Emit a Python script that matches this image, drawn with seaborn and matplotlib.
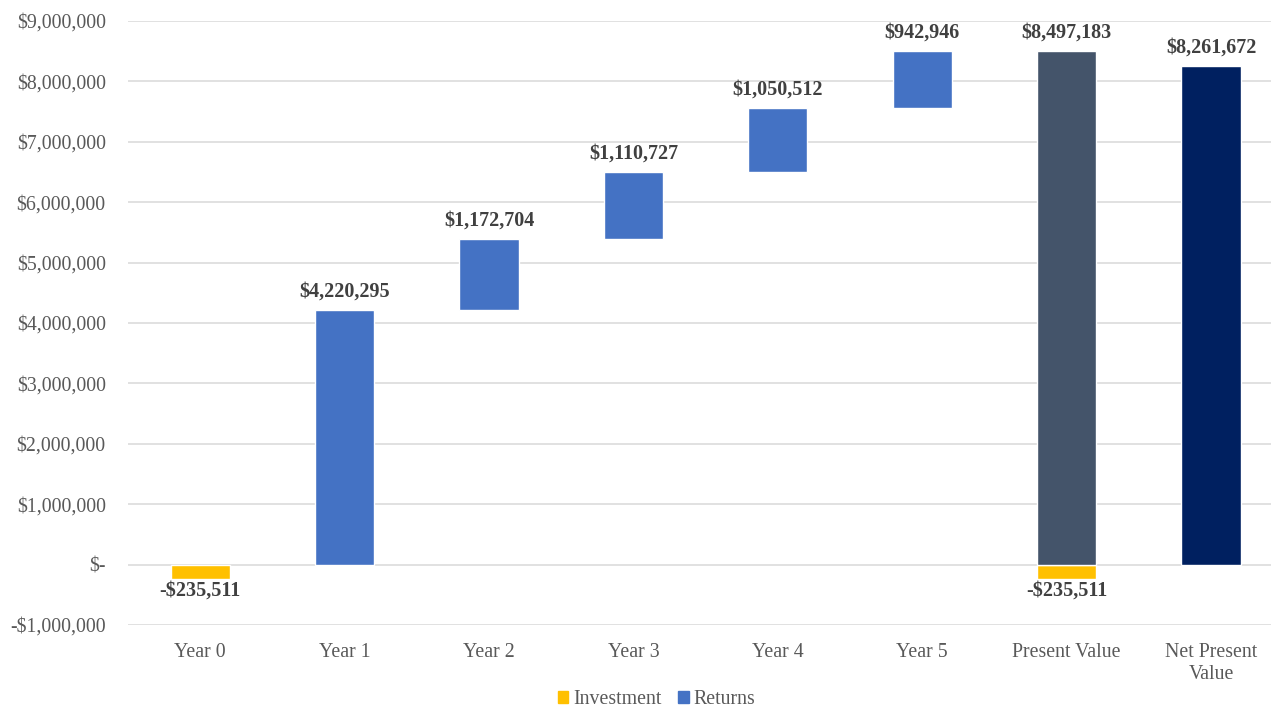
import matplotlib
matplotlib.use("Agg")
import matplotlib.pyplot as plt
import seaborn as sns
import pandas as pd
import numpy as np
from matplotlib.patches import Patch

# ---- data ----
categories = ["Year 0", "Year 1", "Year 2", "Year 3", "Year 4", "Year 5",
              "Present Value", "Net Present\nValue"]
investment = -235511
returns = [4220295, 1172704, 1110727, 1050512, 942946]
present_value = 8497183
net_present_value = 8261672

YELLOW = "#FFC000"
BLUE = "#4472C4"
SLATE = "#44546A"
NAVY = "#002060"
TEXT = "#595959"
LABEL = "#404040"

sns.set_theme(style="white")
plt.rcParams["font.family"] = ["Liberation Serif", "DejaVu Serif"]

fig = plt.figure(figsize=(12.71, 7.15), dpi=100)
ax = fig.add_axes([128 / 1271, 1 - 625 / 715, 1 - 128 / 1271, (625 - 21) / 715])

for y in range(-1000000, 9000001, 1000000):
    ax.axhline(y, color="#D9D9D9", lw=1.1, zorder=0)

W = 0.41
# returns (floating bars)
ret_cats = categories[1:6]
ret_bottoms = np.concatenate([[0], np.cumsum(returns)[:-1]])
df_ret = pd.DataFrame({"cat": ret_cats, "val": returns})
sns.barplot(data=df_ret, x="cat", y="val", order=categories, color=BLUE,
            saturation=1, width=W, errorbar=None, bottom=ret_bottoms, ax=ax, zorder=2)

# investment bars (Year 0 and under Present Value)
inv_cats = [categories[0], categories[6]]
df_inv = pd.DataFrame({"cat": inv_cats, "val": [investment, investment]})
sns.barplot(data=df_inv, x="cat", y="val", order=categories, color=YELLOW,
            saturation=1, width=W, errorbar=None, ax=ax, zorder=2)

# totals
df_pv = pd.DataFrame({"cat": [categories[6]], "val": [present_value]})
sns.barplot(data=df_pv, x="cat", y="val", order=categories, color=SLATE,
            saturation=1, width=W, errorbar=None, ax=ax, zorder=2)
df_npv = pd.DataFrame({"cat": [categories[7]], "val": [net_present_value]})
sns.barplot(data=df_npv, x="cat", y="val", order=categories, color=NAVY,
            saturation=1, width=W, errorbar=None, ax=ax, zorder=2)

def money(v):
    return ("-$" if v < 0 else "$") + f"{abs(int(v)):,}"

lab_kw = dict(fontsize=14.5, fontweight="bold", color=LABEL, ha="center",
              textcoords="offset points")
# labels
for i, v in enumerate(returns):
    top = ret_bottoms[i] + v
    ax.annotate(money(v), (i + 1, top), xytext=(0, 6), va="bottom", **lab_kw)
for xi in (0, 6):
    ax.annotate(money(investment), (xi, investment), xytext=(0, -1), va="top", **lab_kw)
ax.annotate(money(present_value), (6, present_value), xytext=(0, 6), va="bottom", **lab_kw)
ax.annotate(money(net_present_value), (7, net_present_value), xytext=(0, 6), va="bottom", **lab_kw)

ax.set_ylim(-1000000, 9000000)
ax.set_xlim(-0.5, (1271 - 200) / 144.43)
ax.set_yticks(range(-1000000, 9000001, 1000000))

def yfmt(v, pos):
    if v == 0:
        return "$-"
    return money(v)

ax.yaxis.set_major_formatter(matplotlib.ticker.FuncFormatter(yfmt))
ax.tick_params(axis="y", labelsize=14.3, colors=TEXT, length=0, pad=16)
ax.tick_params(axis="x", labelsize=14.3, colors=TEXT, length=0, pad=13)
ax.set_xlabel("")
ax.set_ylabel("")
for s in ax.spines.values():
    s.set_visible(False)

handles = [Patch(color=YELLOW, label="Investment"), Patch(color=BLUE, label="Returns")]
fig.legend(handles=handles, loc="lower center", bbox_to_anchor=(0.5165, -0.017), ncol=2,
           frameon=False, fontsize=14.3, labelcolor=TEXT, handlelength=0.55,
           handleheight=0.55, handletextpad=0.25, columnspacing=0.8)

fig.savefig("out.png", dpi=100)
